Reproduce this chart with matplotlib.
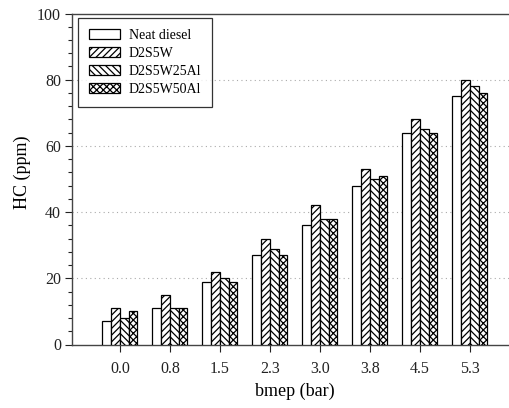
import matplotlib
matplotlib.use("Agg")
import matplotlib.pyplot as plt
import numpy as np
from matplotlib.ticker import MultipleLocator

categories = ["0.0", "0.8", "1.5", "2.3", "3.0", "3.8", "4.5", "5.3"]
neat_diesel = [7, 11, 19, 27, 36, 48, 64, 75]
d2s5w = [11, 15, 22, 32, 42, 53, 68, 80]
d2s5w25al = [8, 11, 20, 29, 38, 50, 65, 78]
d2s5w50al = [10, 11, 19, 27, 38, 51, 64, 76]
series_names = ["Neat diesel", "D2S5W", "D2S5W25Al", "D2S5W50Al"]
hatches = ["", "/////", "\\\\\\\\\\", "xxxxx"]

plt.rcParams['font.family'] = ['Liberation Serif', 'DejaVu Serif']
plt.rcParams['hatch.linewidth'] = 0.9

fig = plt.figure(figsize=(5.1, 4.08), dpi=100)
ax = fig.add_axes([72/510, (408-344.5)/408, 446/510, 331/408])

x = np.arange(len(categories))
w = 0.175
series = [neat_diesel, d2s5w, d2s5w25al, d2s5w50al]
for i, (vals, name, h) in enumerate(zip(series, series_names, hatches)):
    ax.bar(x + (i - 1.5) * w, vals, w, color='white', edgecolor='black',
           linewidth=0.9, hatch=h, label=name, zorder=3)

ax.set_xlim(-0.96, 7.96)
ax.set_ylim(0, 100)
ax.set_xticks(x)
ax.set_xticklabels(categories)
ax.yaxis.set_major_locator(MultipleLocator(20))
ax.yaxis.set_minor_locator(MultipleLocator(4))
ax.tick_params(axis='both', direction='out', labelsize=11.5, colors='#222222')
ax.tick_params(axis='y', which='major', length=5, width=0.8, pad=3)
ax.tick_params(axis='y', which='minor', length=3, width=0.8, color='#222222')
ax.tick_params(axis='x', which='major', length=5, width=0.8, pad=7)
for s in ax.spines.values():
    s.set_color('#444444')
    s.set_linewidth(1.0)
ax.spines['right'].set_visible(False)

for yv in [20, 40, 60, 80]:
    ax.axhline(yv, color='#aaaaaa', linestyle=(0, (1, 3)), linewidth=0.8, zorder=1)

ax.set_xlabel("bmep (bar)", fontsize=13, labelpad=4)
ax.set_ylabel("HC (ppm)", fontsize=13)
ax.yaxis.set_label_coords(-0.092, 0.52)

leg = ax.legend(loc='upper left', bbox_to_anchor=(0.0135, 0.986), borderaxespad=0,
                fontsize=10, handlelength=2.2, handleheight=0.75, frameon=True,
                fancybox=False, edgecolor='black', borderpad=0.8, labelspacing=0.35,
                handletextpad=0.65)
leg.get_frame().set_linewidth(0.9)

fig.savefig("out.png", dpi=100)
